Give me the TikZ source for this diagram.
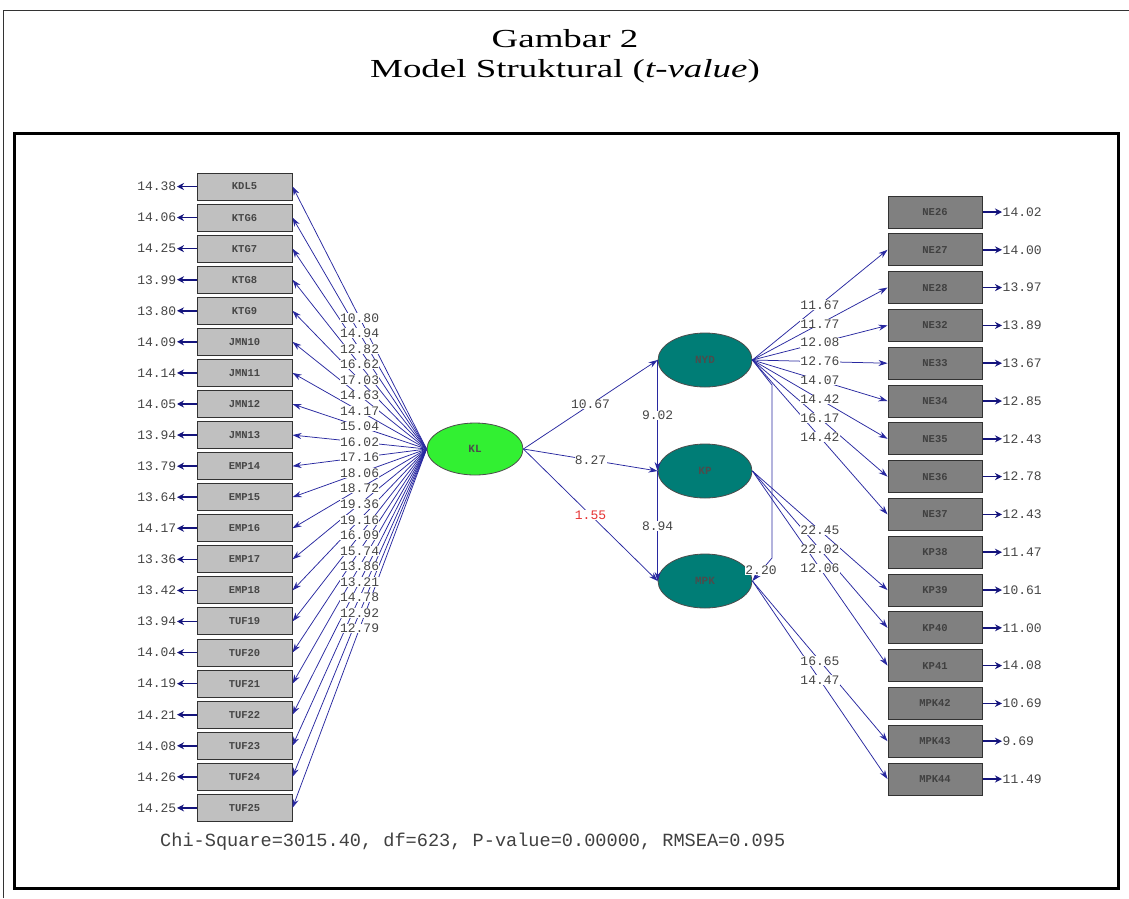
\documentclass[tikz,border=0pt]{standalone}
\usepackage{fontspec}
\setmainfont{Liberation Serif}
\newfontfamily\monof{Liberation Mono}
\usetikzlibrary{shapes.geometric,arrows.meta}
\definecolor{lgray}{RGB}{192,192,192}
\definecolor{dgray}{RGB}{128,128,128}
\definecolor{boxline}{RGB}{50,50,50}
\definecolor{latteal}{RGB}{0,125,118}
\definecolor{klgreen}{RGB}{50,240,50}
\definecolor{fanc}{RGB}{40,40,160}
\definecolor{errc}{RGB}{20,20,125}
\definecolor{numc}{RGB}{70,70,70}
\definecolor{redc}{RGB}{230,50,50}
\begin{document}
\begin{tikzpicture}[x=1pt,y=-1pt,
  lbox/.style={draw=boxline,line width=1pt,fill=lgray,minimum width=95pt,minimum height=27pt,inner sep=0pt,font=\monof\bfseries\fontsize{10.5}{10.5}\selectfont,text=numc},
  rbox/.style={draw=boxline,line width=1pt,fill=dgray,minimum width=94pt,minimum height=32pt,inner sep=0pt,font=\monof\bfseries\fontsize{10.5}{10.5}\selectfont,text=black!75},
  num/.style={font=\monof\fontsize{13}{13}\selectfont,text=numc,inner sep=0.5pt},
  lab/.style={num,fill=white,inner sep=0.4pt},
  lat/.style={ellipse,draw=black!70,line width=0.8pt,minimum width=94pt,minimum height=54pt,inner sep=0pt,font=\monof\bfseries\fontsize{11}{11}\selectfont,text=black!70},
  arr/.style={draw=fanc,line width=0.75pt,-{Stealth[length=9pt,width=6pt]}},
  err/.style={draw=errc,line width=1.6pt,-{Stealth[length=7pt,width=7pt]}}
]
\useasboundingbox (0,0) rectangle (1129,898);
\fill[white] (0,0) rectangle (1129,898);
% outer frame
\coordinate (o1) at (3,10);
\coordinate (o2) at (1129,10);
\coordinate (o3) at (3,898);
\draw[line width=0.8pt,black!80] (o3) -- (o1) -- (o2);
% title
\node[font=\fontsize{26}{26}\selectfont,anchor=base] (t1) at (565,47) {\scalebox{1.42}[1]{Gambar 2}};
\node[font=\fontsize{26}{26}\selectfont,anchor=base] (t2) at (565,77) {\scalebox{1.42}[1]{Model Struktural (\textit{t-value})}};
% inner frame
\draw[line width=3pt,black] (14,133) rectangle (1118,888);

% left indicators
\foreach \n/\e [count=\i from 0] in {KDL5/14.38,KTG6/14.06,KTG7/14.25,KTG8/13.99,KTG9/13.80,JMN10/14.09,JMN11/14.14,JMN12/14.05,JMN13/13.94,EMP14/13.79,EMP15/13.64,EMP16/14.17,EMP17/13.36,EMP18/13.42,TUF19/13.94,TUF20/14.04,TUF21/14.19,TUF22/14.21,TUF23/14.08,TUF24/14.26,TUF25/14.25}{
  \node[lbox] (L\i) at (244.5,{186.5+\i*31.07}) {\n};
  \node[num,anchor=east] (LE\i) at (177,{186.5+\i*31.07}) {\e};
  \draw[err] (L\i.west) -- (LE\i.east);
}
% right indicators
\foreach \n/\e [count=\i from 0] in {NE26/14.02,NE27/14.00,NE28/13.97,NE32/13.89,NE33/13.67,NE34/12.85,NE35/12.43,NE36/12.78,NE37/12.43,KP38/11.47,KP39/10.61,KP40/11.00,KP41/14.08,MPK42/10.69,MPK43/9.69,MPK44/11.49}{
  \node[rbox] (R\i) at (935,{212+\i*37.8}) {\n};
  \node[num,anchor=west] (RE\i) at (1002,{212+\i*37.8}) {\e};
  \draw[err] (R\i.east) -- (RE\i.west);
}
% latent variables
\node[lat,fill=klgreen,minimum width=96pt,minimum height=52pt] (KL) at (475,449) {KL};
\node[lat,fill=latteal] (NYD) at (705,360) {NYD};
\node[lat,fill=latteal] (KP) at (705,471) {KP};
\node[lat,fill=latteal] (MPK) at (705,581) {MPK};

% left fan lines
\foreach \i in {0,...,20}{ \draw[arr] (KL.west) -- (L\i.east); }
\foreach \v [count=\i from 0] in {10.80,14.94,12.82,16.62,17.03,14.63,14.17,15.04,16.02,17.16,18.06,18.72,19.36,19.16,16.09,15.74,13.86,13.21,14.78,12.92,12.79}{
  \path (KL.west) -- node[lab] (FL\i) {\v} (L\i.east);
}
% right fans
\foreach \i in {1,...,8}{ \draw[arr] (NYD.east) -- (R\i.west); }
\foreach \i in {10,11,12}{ \draw[arr] (KP.east) -- (R\i.west); }
\foreach \i in {14,15}{ \draw[arr] (MPK.east) -- (R\i.west); }
\foreach \v [count=\i from 1] in {11.67,11.77,12.08,12.76,14.07,14.42,16.17,14.42}{
  \path (NYD.east) -- node[lab] (FN\i) {\v} (R\i.west);
}
\foreach \v [count=\i from 10] in {22.45,22.02,12.06}{
  \path (KP.east) -- node[lab] (FK\i) {\v} (R\i.west);
}
\foreach \v [count=\i from 14] in {16.65,14.47}{
  \path (MPK.east) -- node[lab] (FM\i) {\v} (R\i.west);
}
% structural paths
\draw[arr] (KL.east) -- node[lab] (s1) {10.67} (NYD.west);
\draw[arr] (KL.east) -- node[lab] (s2) {8.27} (KP.west);
\draw[arr] (KL.east) -- node[lab,text=redc] (s3) {1.55} (MPK.west);
\draw[arr] (NYD.west) -- node[lab] (s4) {9.02} (KP.west);
\draw[arr] (KP.west) -- node[lab] (s5) {8.94} (MPK.west);
\coordinate (b1) at (772,385);
\coordinate (b2) at (772,558);
\draw[arr] (NYD.east) -- (b1) -- (b2) -- (MPK.east);
\node[lab] (s6) at (761,570) {2.20};
% fit statistics
\node[anchor=base west,inner sep=0pt,font=\monof\fontsize{18.6}{18.6}\selectfont,text=black!75] (chi) at (160,846) {Chi-Square=3015.40, df=623, P-value=0.00000, RMSEA=0.095};
\end{tikzpicture}
\end{document}
